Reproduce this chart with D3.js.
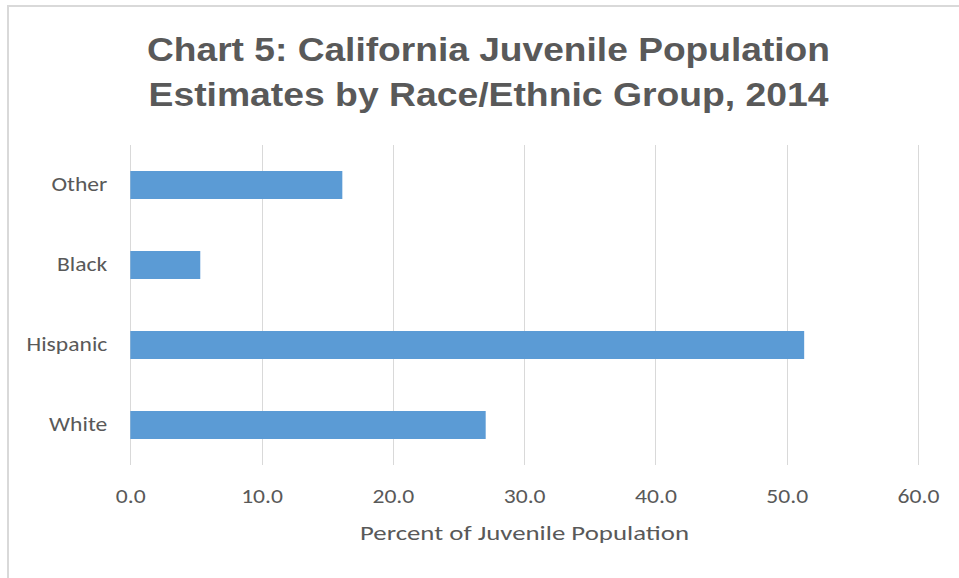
<!DOCTYPE html>
<html>
<head>
<meta charset="utf-8">
<script src="https://cdn.jsdelivr.net/npm/d3@7"></script>
<style>
  body { margin: 0; background: #fff; }
  svg { display: block; }
</style>
</head>
<body>
<div class="viz"></div>
<script>
var categories = ["Other", "Black", "Hispanic", "White"];
var values = [16.15, 5.33, 51.33, 27.07];
var tickValues = [0, 10, 20, 30, 40, 50, 60];
var titleLines = ["Chart 5: California Juvenile Population", "Estimates by Race/Ethnic Group, 2014"];
var axisTitle = "Percent of Juvenile Population";

var width = 959,
    height = 578,
    margin = {top: 145, right: 41, bottom: 113, left: 130.3};

var labelFont = "Carlito, Calibri, Lato, sans-serif",
    stretch = 1.18;

var svg = d3.select(".viz").append("svg")
    .attr("width", width)
    .attr("height", height);

// the source picture is a bit wider than the font, so stretch the text
function widen(sel, k) {
    sel.each(function() {
        var len = this.getComputedTextLength();
        d3.select(this)
            .attr("textLength", len * k)
            .attr("lengthAdjust", "spacingAndGlyphs");
    });
}

// chart frame (only top and left edges show in the original crop)
svg.append("line")
    .attr("x1", 8).attr("x2", width).attr("y1", 6).attr("y2", 6)
    .attr("stroke", "#d9d9d9").attr("stroke-width", 2);
svg.append("line")
    .attr("x1", 8).attr("x2", 8).attr("y1", 5).attr("y2", height)
    .attr("stroke", "#d9d9d9").attr("stroke-width", 2);

var x = d3.scaleLinear()
    .domain([0, 60])
    .range([margin.left, width - margin.right]);

var y = d3.scaleBand()
    .domain(categories)
    .range([margin.top, height - margin.bottom])
    .paddingInner(0.65)
    .paddingOuter(0.325);

// title
svg.append("g")
    .selectAll("text")
    .data(titleLines)
    .join("text")
    .attr("x", 488.5)
    .attr("y", function(d, i) { return 61 + i * 44.5; })
    .attr("text-anchor", "middle")
    .attr("font-family", "Liberation Sans, Arial, sans-serif")
    .attr("font-weight", "bold")
    .attr("font-size", 33)
    .attr("fill", "#595959")
    .text(function(d) { return d; })
    .attr("textLength", function(d, i) { return i ? 680 : 683; })
    .attr("lengthAdjust", "spacingAndGlyphs");

// gridlines
svg.append("g")
    .selectAll("line")
    .data(tickValues)
    .join("line")
    .attr("x1", function(d) { return Math.round(x(d)) + 0.5; })
    .attr("x2", function(d) { return Math.round(x(d)) + 0.5; })
    .attr("y1", margin.top)
    .attr("y2", height - margin.bottom)
    .attr("stroke", "#d9d9d9")
    .attr("stroke-width", 1);

// bars
svg.append("g")
    .selectAll("rect")
    .data(categories)
    .join("rect")
    .attr("x", x(0))
    .attr("y", function(d) { return y(d); })
    .attr("width", function(d, i) { return x(values[i]) - x(0); })
    .attr("height", y.bandwidth())
    .attr("fill", "#5b9bd5");

// x axis labels
var xAxis = d3.axisBottom(x)
    .tickValues(tickValues)
    .tickSize(0)
    .tickPadding(0)
    .tickFormat(d3.format(".1f"));

var gx = svg.append("g")
    .attr("transform", "translate(0," + (height - margin.bottom) + ")")
    .call(xAxis);
gx.select(".domain").remove();
gx.selectAll("text")
    .attr("dy", null)
    .attr("y", 38)
    .attr("font-family", labelFont)
    .attr("font-size", 20)
    .attr("fill", "#595959")
    .call(widen, stretch);

// y axis labels
var yAxis = d3.axisLeft(y)
    .tickSize(0)
    .tickPadding(23);

var gy = svg.append("g")
    .attr("transform", "translate(" + margin.left + ",0)")
    .call(yAxis);
gy.select(".domain").remove();
gy.selectAll("text")
    .attr("font-family", labelFont)
    .attr("font-size", 20)
    .attr("fill", "#595959")
    .call(widen, stretch);

// axis title
svg.append("text")
    .attr("x", 524.5)
    .attr("y", 539.5)
    .attr("text-anchor", "middle")
    .attr("font-family", labelFont)
    .attr("font-size", 21)
    .attr("fill", "#595959")
    .text(axisTitle)
    .attr("textLength", 329)
    .attr("lengthAdjust", "spacingAndGlyphs");
</script>
</body>
</html>
